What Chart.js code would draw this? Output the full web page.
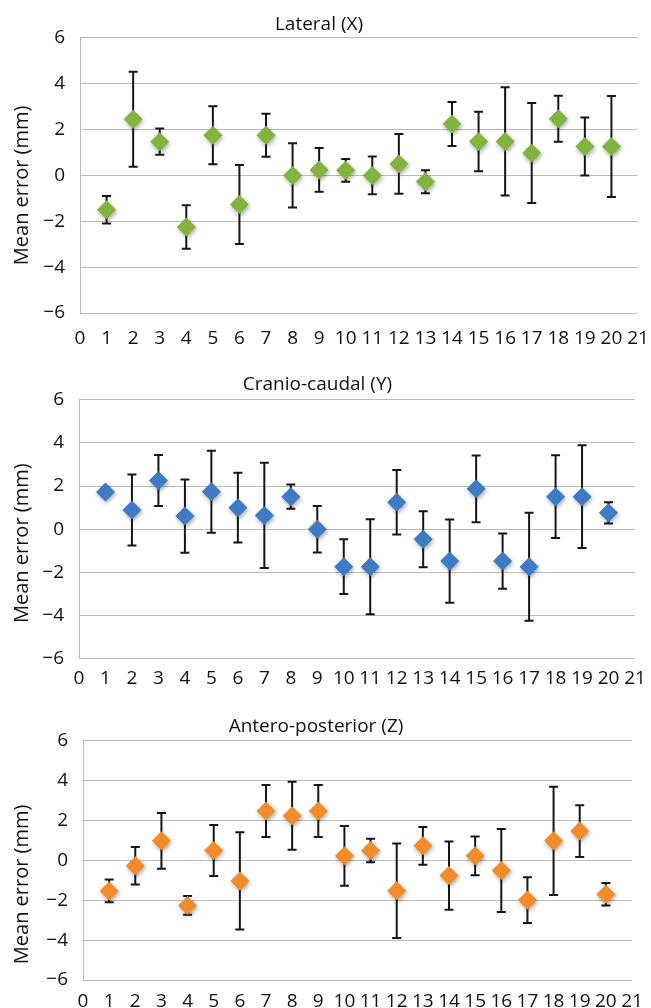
<!DOCTYPE html>
<html>
<head>
<meta charset="utf-8">
<script src="https://cdn.jsdelivr.net/npm/chart.js@4.4.0/dist/chart.umd.min.js"></script>
<style>
  html, body { margin: 0; padding: 0; background: #fff; }
  body { width: 651px; height: 1008px; position: relative; overflow: hidden; }
  .panel { position: absolute; left: 0; width: 651px; }
</style>
</head>
<body>
<div class="panel" style="top:0;height:347px"><canvas id="chartX"></canvas></div>
<div class="panel" style="top:347px;height:338px"><canvas id="chartY"></canvas></div>
<div class="panel" style="top:685px;height:323px"><canvas id="chartZ"></canvas></div>

<script>
// subject / target number on the x axis
const targets = [1, 2, 3, 4, 5, 6, 7, 8, 9, 10, 11, 12, 13, 14, 15, 16, 17, 18, 19, 20];
const yTicks = [-6, -4, -2, 0, 2, 4, 6];

// Lateral (X)
const lateralMean = [-1.5, 2.45, 1.47, -2.25, 1.75, -1.27, 1.75, 0, 0.24, 0.22, 0, 0.5, -0.28, 2.24, 1.48, 1.48, 0.98, 2.47, 1.26, 1.26];
const lateralErr  = [0.6, 2.07, 0.57, 0.95, 1.26, 1.72, 0.94, 1.4, 0.95, 0.5, 0.82, 1.3, 0.5, 0.96, 1.3, 2.36, 2.18, 1.0, 1.26, 2.2];

// Cranio-caudal (Y)
const cranioMean = [1.73, 0.89, 2.26, 0.61, 1.74, 1.0, 0.64, 1.51, 0, -1.74, -1.74, 1.25, -0.47, -1.48, 1.87, -1.48, -1.74, 1.51, 1.51, 0.76];
const cranioErr  = [0.2, 1.65, 1.18, 1.7, 1.9, 1.62, 2.44, 0.56, 1.08, 1.27, 2.2, 1.5, 1.3, 1.93, 1.55, 1.28, 2.5, 1.92, 2.38, 0.49];

// Antero-posterior (Z)
const anteroMean = [-1.53, -0.27, 0.98, -2.26, 0.5, -1.03, 2.48, 2.24, 2.48, 0.23, 0.5, -1.52, 0.73, -0.76, 0.23, -0.51, -1.99, 0.98, 1.47, -1.7];
const anteroErr  = [0.57, 0.94, 1.4, 0.47, 1.28, 2.44, 1.3, 1.7, 1.3, 1.5, 0.59, 2.37, 0.95, 1.71, 0.97, 2.08, 1.15, 2.72, 1.3, 0.56];

const FONT = '"Open Sans", "DejaVu Sans", sans-serif';
const GRID = '#bcbcbc';
const INK = '#111111';

// whiskers drawn behind the diamonds
const errorBars = {
    id: 'errorBars',
    beforeDatasetsDraw(chart) {
        const { ctx, scales: { x, y } } = chart;
        ctx.save();
        ctx.strokeStyle = '#151515';
        ctx.lineWidth = 2;
        chart.data.datasets[0].data.forEach(p => {
            const px = x.getPixelForValue(p.x);
            const top = y.getPixelForValue(p.y + p.err);
            const bot = y.getPixelForValue(p.y - p.err);
            ctx.beginPath();
            ctx.moveTo(px, top); ctx.lineTo(px, bot);
            ctx.moveTo(px - 4.5, top); ctx.lineTo(px + 4.5, top);
            ctx.moveTo(px - 4.5, bot); ctx.lineTo(px + 4.5, bot);
            ctx.stroke();
        });
        ctx.restore();
    }
};

// soft drop shadow under the markers, like the Excel original
const markerShadow = {
    id: 'markerShadow',
    beforeDatasetDraw(chart) {
        const ctx = chart.ctx;
        ctx.save();
        ctx.shadowColor = 'rgba(0,0,0,0.35)';
        ctx.shadowBlur = 4;
        ctx.shadowOffsetX = 1;
        ctx.shadowOffsetY = 2;
    },
    afterDatasetDraw(chart) {
        chart.ctx.restore();
    }
};

// rotated y title, centred a little below the plot middle
const yTitle = {
    id: 'yTitle',
    afterDraw(chart, args, opts) {
        const { ctx, chartArea } = chart;
        ctx.save();
        ctx.translate(opts.x, (chartArea.top + chartArea.bottom) / 2 + opts.shift);
        ctx.rotate(-Math.PI / 2);
        ctx.font = '20px ' + FONT;
        ctx.fillStyle = INK;
        ctx.textAlign = 'center';
        ctx.textBaseline = 'middle';
        ctx.fillText(opts.text, 0, 0);
        ctx.restore();
    }
};

function makePanel(canvasId, title, means, errs, color, box) {
    const points = targets.map((t, i) => ({ x: t, y: means[i], err: errs[i] }));

    return new Chart(document.getElementById(canvasId), {
        type: 'scatter',
        data: {
            datasets: [{
                data: points,
                pointStyle: 'rectRot',
                pointRadius: 9.5,
                backgroundColor: color,
                borderColor: color,
                borderWidth: 0
            }]
        },
        options: {
            responsive: true,
            maintainAspectRatio: false,
            animation: false,
            layout: { padding: { top: 0, right: box.right, bottom: 0, left: 0 } },
            plugins: {
                legend: { display: false },
                tooltip: { enabled: false },
                title: {
                    display: true,
                    text: title,
                    color: INK,
                    font: { family: FONT, size: 19, weight: 'normal' },
                    padding: { top: box.titleTop, bottom: box.titleBottom }
                },
                yTitle: { text: 'Mean error (mm)', x: 22, shift: box.yShift }
            },
            scales: {
                x: {
                    type: 'linear',
                    min: 0,
                    max: 21,
                    afterFit: s => {
                        s.height = box.xHeight;
                        // let layout.padding alone decide the plot edges
                        s.paddingLeft = 0;
                        s.paddingRight = 0;
                    },
                    grid: { display: false, drawTicks: false },
                    border: { display: false },
                    ticks: {
                        stepSize: 1,
                        autoSkip: false,
                        maxRotation: 0,
                        padding: box.tickPad,
                        color: INK,
                        font: { family: FONT, size: 19 }
                    }
                },
                y: {
                    min: -6,
                    max: 6,
                    afterFit: s => { s.width = box.left; },
                    afterBuildTicks: s => { s.ticks = yTicks.map(v => ({ value: v })); },
                    grid: { color: GRID, lineWidth: 1, drawTicks: false },
                    border: { display: true, color: GRID, width: 1 },
                    ticks: {
                        padding: 15,
                        color: INK,
                        font: { family: FONT, size: 19 },
                        callback: v => (v < 0 ? '\u2212' + Math.abs(v) : String(v))
                    }
                }
            }
        },
        plugins: [errorBars, markerShadow, yTitle]
    });
}

makePanel('chartX', 'Lateral (X)', lateralMean, lateralErr, '#83b33f',
    { left: 80, right: 13, titleTop: 13, titleBottom: 2, xHeight: 34, tickPad: 14, yShift: 10 });
makePanel('chartY', 'Cranio-caudal (Y)', cranioMean, cranioErr, '#3d7bc4',
    { left: 79, right: 16, titleTop: 26, titleBottom: 4, xHeight: 26, tickPad: 9, yShift: 14 });
makePanel('chartZ', 'Antero-posterior (Z)', anteroMean, anteroErr, '#f28b2a',
    { left: 83, right: 19, titleTop: 30, titleBottom: 3, xHeight: 28, tickPad: 10, yShift: 24 });
</script>
</body>
</html>
